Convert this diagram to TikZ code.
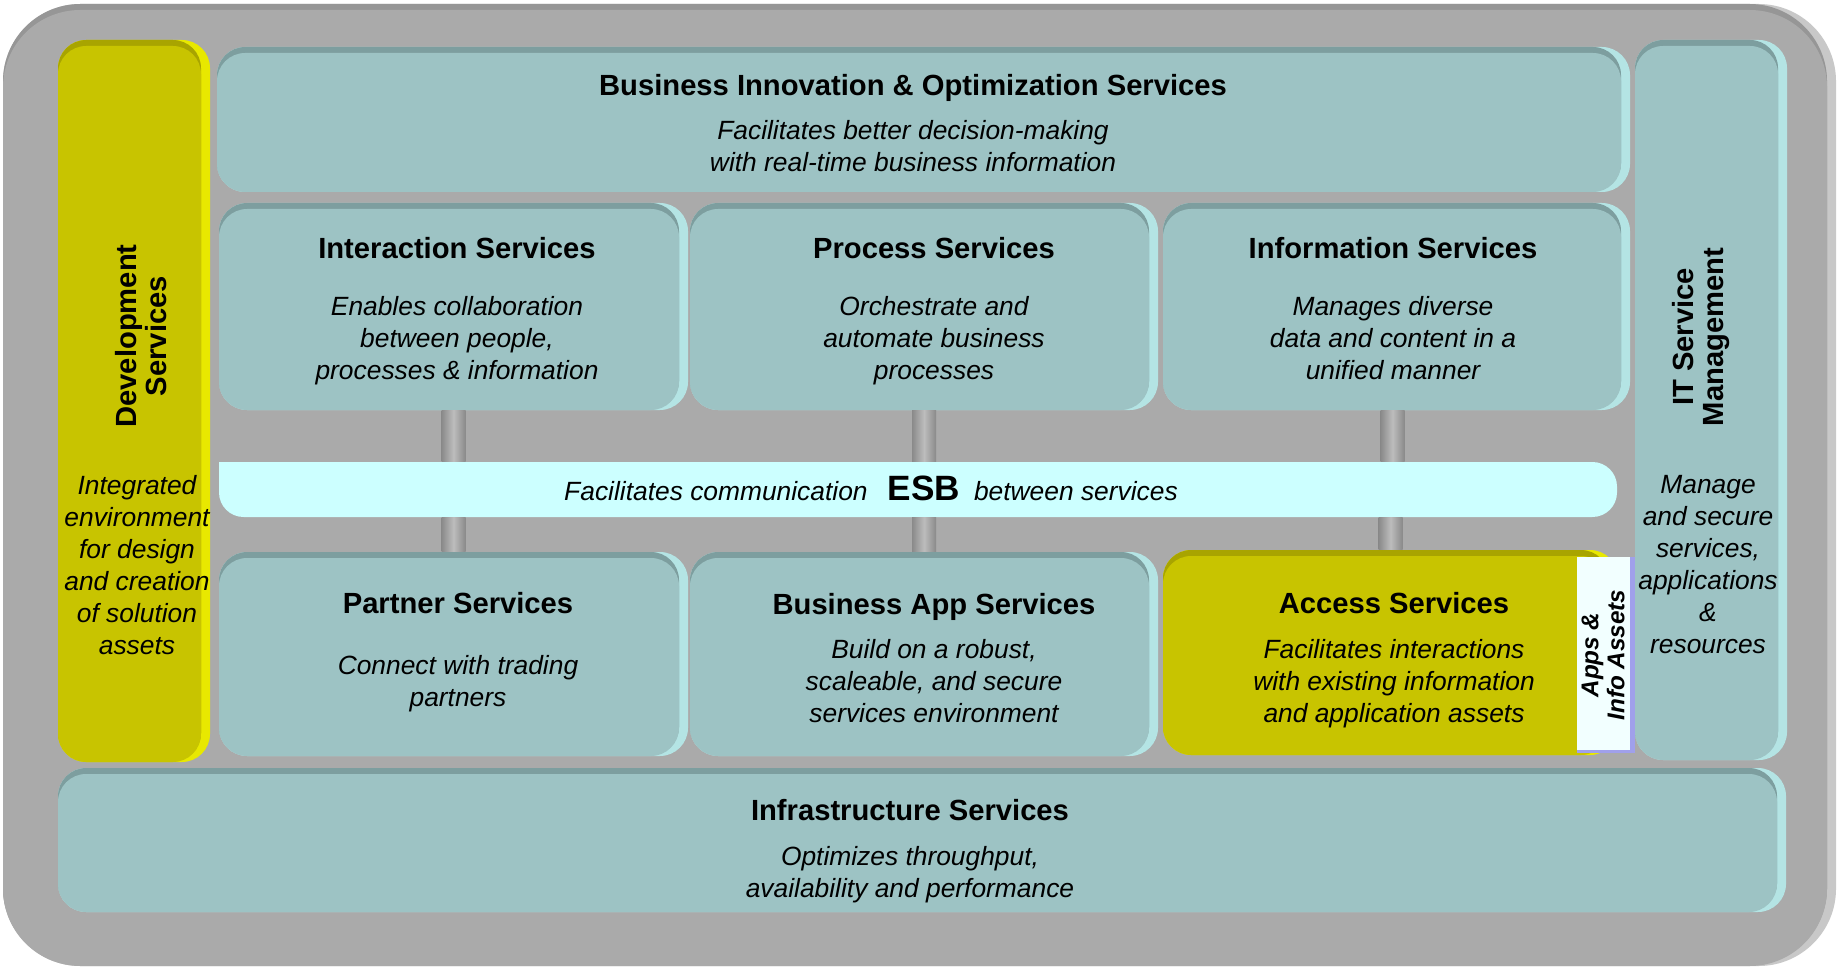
\documentclass[tikz,border=0pt]{standalone}
\usepackage{fontspec}
\setmainfont{Liberation Sans}
\usetikzlibrary{calc,fit}
\definecolor{bgmain}{RGB}{170,170,170}
\definecolor{bgdark}{RGB}{150,150,150}
\definecolor{bglight}{RGB}{200,200,200}
\definecolor{tmain}{RGB}{157,195,196}
\definecolor{tdark}{RGB}{125,158,159}
\definecolor{tlight}{RGB}{180,228,228}
\definecolor{ymain}{RGB}{200,196,0}
\definecolor{ydark}{RGB}{168,164,0}
\definecolor{ylight}{RGB}{232,232,0}
\definecolor{esbfill}{RGB}{204,255,255}
\definecolor{tabfill}{RGB}{242,255,255}
\definecolor{tabrim}{RGB}{160,160,235}
\tikzset{
  ttl/.style={font=\fontsize{8.3}{8.6}\selectfont\bfseries, inner sep=0, align=center},
  dsc/.style={font=\fontsize{7.5}{9.1}\selectfont\itshape, inner sep=0, align=center},
  tabtxt/.style={font=\fontsize{6.9}{7.4}\selectfont\bfseries\itshape, inner sep=0, align=center},
  pipe/.style={left color=gray!92, right color=gray!92, middle color=gray!52},
  area/.style={inner sep=0, draw=none}
}
% #1 radius, #2 name, #3 x1, #4 y1, #5 x2, #6 y2, #7 main, #8 dark, #9 light
\newcommand\bevelbox[9][8pt]{%
  \fill[#9, rounded corners=#1] (#3,#4) rectangle (#5,#6);
  \fill[#8, rounded corners=#1] (#3,#4) rectangle ({#5-9},{#6-1});
  \fill[#7, rounded corners=#1] (#3,{#4+6}) rectangle ({#5-9},#6);
  \node[area, fit={(#3,#4) (#5,#6)}] (#2) {};
}
\begin{document}
\begin{tikzpicture}[x=0.01cm,y=-0.01cm]
\useasboundingbox (0,0) rectangle (1837,967);
% outer frame
\bevelbox[22pt]{outer}{3}{4}{1836}{966}{bgmain}{bgdark}{bglight}
% side columns
\bevelbox{dev}{58}{40}{210}{762}{ymain}{ydark}{ylight}
\bevelbox{itsm}{1635}{40}{1787}{760}{tmain}{tdark}{tlight}
% top
\bevelbox{bio}{217}{47}{1630}{192}{tmain}{tdark}{tlight}
% row 2
\bevelbox{inter}{219}{203}{688}{410}{tmain}{tdark}{tlight}
\bevelbox{proc}{690}{203}{1158}{410}{tmain}{tdark}{tlight}
\bevelbox{info}{1163}{203}{1630}{410}{tmain}{tdark}{tlight}
% row 3
\bevelbox{partner}{219}{552}{688}{756}{tmain}{tdark}{tlight}
\bevelbox{bizapp}{690}{552}{1158}{756}{tmain}{tdark}{tlight}
\bevelbox{access}{1163}{550}{1618}{755}{ymain}{ydark}{ylight}
% apps tab
\fill[tabrim] (1577,557) rectangle (1635,753);
\fill[tabfill] (1577,557) rectangle (1630,750);
\node[area, fit={(1577,557) (1635,753)}] (tab) {};
% infrastructure
\bevelbox{infra}{58}{768}{1786}{912}{tmain}{tdark}{tlight}
% ESB bar
\fill[esbfill, rounded corners=7pt] (219,462) -- (1617,462) -- (1617,517) -- (219,517) [sharp corners] -- cycle;
\node[area, fit={(219,462) (1617,517)}] (esb) {};
% connectors
\shade[pipe] ($(inter.south)+(-12,0)$) rectangle ($(inter.south |- esb.north)+(12,0)$);
\shade[pipe] ($(proc.south)+(-12,0)$) rectangle ($(proc.south |- esb.north)+(12,0)$);
\shade[pipe] ($(info.south)+(-16,0)$) rectangle ($(info.south |- esb.north)+(8,0)$);
\shade[pipe] ($(partner.north)+(-12,0)$) rectangle ($(partner.north |- esb.south)+(12,0)$);
\shade[pipe] ($(bizapp.north)+(-12,0)$) rectangle ($(bizapp.north |- esb.south)+(12,0)$);
\shade[pipe] ($(access.north)+(-12,0)$) rectangle ($(access.north |- esb.south)+(12,0)$);
% texts
\node[ttl] (bio-t) at (913,87.5) {Business Innovation \& Optimization Services};
\node[dsc] (bio-d) at (913,146) {Facilitates better decision-making\\with real-time business information};
\node[ttl] (inter-t) at (457,248) {Interaction Services};
\node[dsc] (inter-d) at (457,340.5) {Enables collaboration\\between people,\\processes \& information};
\node[ttl] (proc-t) at (934,248) {Process Services};
\node[dsc] (proc-d) at (934,340.5) {Orchestrate and\\automate business\\processes};
\node[ttl] (info-t) at (1393,248) {Information Services};
\node[dsc] (info-d) at (1393,338) {Manages diverse\\data and content in a\\unified manner};
\node[inner sep=0] (esb-t) at (871,488) {\fontsize{7.5}{9.1}\selectfont\itshape Facilitates communication\hspace{0.2cm}{\upshape\bfseries\fontsize{10}{12}\selectfont ESB}\hspace{0.14cm}between services};
\node[ttl] (partner-t) at (458,603) {Partner Services};
\node[dsc] (partner-d) at (458,683.5) {Connect with trading\\partners};
\node[ttl] (bizapp-t) at (934,606.5) {Business App Services};
\node[dsc] (bizapp-d) at (934,681) {Build on a robust,\\scaleable, and secure\\services environment};
\node[ttl] (access-t) at (1394,603) {Access Services};
\node[dsc] (access-d) at (1394,684) {Facilitates interactions\\with existing information\\and application assets};
\node[tabtxt, rotate=90] (tab-t) at (1603,655) {Apps \&\\Info Assets};
\node[ttl, rotate=90] (dev-t) at (141,336) {Development\\Services};
\node[dsc] (dev-d) at (137,565) {Integrated\\environment\\for design\\and creation\\of solution\\assets};
\node[ttl, rotate=90] (itsm-t) at (1701,337) {IT Service\\Management};
\node[dsc] (itsm-d) at (1708,564.5) {Manage\\and secure\\services,\\applications\\\&\\resources};
\node[ttl] (infra-t) at (910,810) {Infrastructure Services};
\node[dsc] (infra-d) at (910,875) {Optimizes throughput,\\availability and performance};
\end{tikzpicture}
\end{document}
